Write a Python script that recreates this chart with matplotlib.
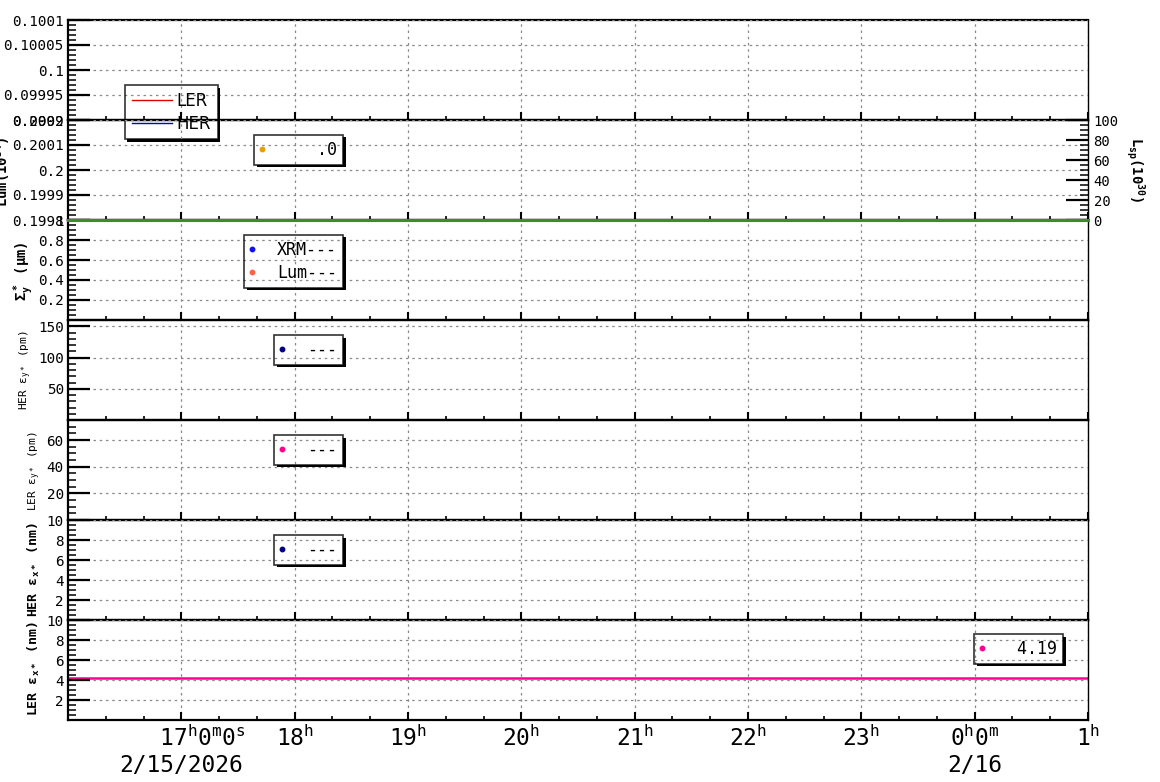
import matplotlib
matplotlib.use('Agg')
import matplotlib.pyplot as plt
import matplotlib.dates as mdates
from matplotlib.ticker import AutoMinorLocator, FuncFormatter
from matplotlib.lines import Line2D
from matplotlib.patches import Rectangle
import pandas as pd

W, H = 1160, 782
plt.rcParams['font.family'] = ['DejaVu Sans Mono', 'DejaVu Sans']
plt.rcParams['mathtext.default'] = 'regular'

# ---------------- data ----------------
t_start = pd.Timestamp('2026-02-15 16:00')
t_end = pd.Timestamp('2026-02-16 01:00')
hour_ticks = pd.date_range('2026-02-15 17:00', '2026-02-16 01:00', freq='h')
hour_labels = ['   17$^h$0$^m$0$^s$\n2/15/2026', '18$^h$', '19$^h$', '20$^h$',
               '21$^h$', '22$^h$', '23$^h$', '0$^h$0$^m$\n2/16', '1$^h$']

line_times = [t_start, t_end]
lsp_values = [0, 0]               # specific luminosity (right axis of panel 2)
ler_ex_values = [4.19, 4.19]      # LER emittance x
ler_ex_latest = 4.19

panel_ylims = [(0.0999, 0.1001), (0.1998, 0.2002), (0, 1), (0, 160), (0, 75), (0, 10), (0, 10)]
panel_yticks = [[0.0999, 0.09995, 0.1, 0.10005, 0.1001],
                [0.1998, 0.1999, 0.2, 0.2001, 0.2002],
                [0.2, 0.4, 0.6, 0.8, 1.0],
                [50, 100, 150],
                [20, 40, 60],
                [2, 4, 6, 8, 10],
                [2, 4, 6, 8, 10]]
panel_minor = [5, 5, 4, 5, 4, 4, 4]
lsp_ylim = (0, 100)
lsp_yticks = [0, 20, 40, 60, 80, 100]

# ---------------- figure ----------------
fig = plt.figure(figsize=(W / 100, H / 100), dpi=100)
fig.patch.set_facecolor('white')

x0, x1 = 68, 1088
tops = [20, 120, 220, 320, 420, 520, 620]
ph = 100
axes = []
for i, top in enumerate(tops):
    rect = [x0 / W, 1 - (top + ph) / H, (x1 - x0) / W, ph / H]
    ax = fig.add_axes(rect, sharex=axes[0] if axes else None)
    ax.set_facecolor('none')
    axes.append(ax)

grid_kw = dict(color='#8a8a8a', linestyle=(0, (2, 3)), linewidth=0.9)
hour_nums = mdates.date2num(hour_ticks.to_pydatetime())

for i, ax in enumerate(axes):
    ax.set_xlim(mdates.date2num(t_start.to_pydatetime()), mdates.date2num(t_end.to_pydatetime()))
    ax.set_ylim(*panel_ylims[i])
    ax.set_yticks(panel_yticks[i])
    ax.yaxis.set_major_formatter(FuncFormatter(lambda v, p: '%g' % v))
    ax.yaxis.set_minor_locator(AutoMinorLocator(panel_minor[i]))
    ax.set_xticks(hour_nums)
    ax.xaxis.set_minor_locator(mdates.MinuteLocator(byminute=[20, 40]))
    ax.set_axisbelow(False)
    ax.grid(True, which='major', **grid_kw)
    ax.tick_params(axis='y', which='major', direction='in', length=16, width=1.6,
                   labelsize=10.3, pad=3, left=True, right=False)
    ax.tick_params(axis='y', which='minor', direction='in', length=6, width=1.1,
                   left=True, right=False)
    ax.tick_params(axis='x', which='major', direction='in', length=6, width=1.5,
                   top=False, bottom=True)
    ax.tick_params(axis='x', which='minor', direction='in', length=3, width=1.2,
                   top=False, bottom=True)
    for s in ('top', 'bottom', 'left'):
        ax.spines[s].set_linewidth(1.6)
    ax.spines['right'].set_linewidth(1.0)
    if i < len(axes) - 1:
        ax.tick_params(axis='x', labelbottom=False)

# bottom x labels
axb = axes[-1]
axb.set_xticks(hour_nums, hour_labels)
axb.tick_params(axis='x', which='major', labelsize=16.5, pad=4)
for lbl in axb.get_xticklabels():
    lbl.set_linespacing(1.15)

# panel 1: LER / HER lines (no data)
ax1 = axes[0]
h_ler, = ax1.plot([], [], color='#e00000', lw=1.0, label='LER')
h_her, = ax1.plot([], [], color='#0000c8', lw=1.0, label='HER')

# panel 2: luminosity with Lsp twin axis
ax2 = axes[1]
h_lum, = ax2.plot([], [], 'o', color='#e8a000', ms=3.2, label='   .0')
ax2r = ax2.twinx()
ax2r.set_facecolor('none')
ax2r.set_ylim(*lsp_ylim)
ax2r.set_yticks(lsp_yticks)
ax2r.yaxis.set_minor_locator(AutoMinorLocator(4))
ax2r.plot(line_times, lsp_values, color='#3c8c28', lw=2.2, clip_on=False)
ax2r.tick_params(axis='y', which='major', direction='in', length=16, width=1.6,
                 labelsize=10, pad=4)
ax2r.tick_params(axis='y', which='minor', direction='in', length=6, width=1.1)
for s in ax2r.spines.values():
    s.set_visible(False)

# panel 3: sigma_y*
ax3 = axes[2]
h_xrm, = ax3.plot([], [], 'o', color='#1010f0', ms=3.2, label='XRM---')
h_lm, = ax3.plot([], [], 'o', color='#ff6347', ms=3.2, label='Lum---')

# panel 4-6
h4, = axes[3].plot([], [], 'o', color='#000080', ms=3.2, label='---')
h5, = axes[4].plot([], [], 'o', color='#ff0090', ms=3.2, label='---')
h6, = axes[5].plot([], [], 'o', color='#000080', ms=3.2, label='---')

# panel 7: LER emittance x
ax7 = axes[6]
h7, = ax7.plot(line_times, ler_ex_values, '-', color='#ff0090', lw=1.8)
h7m = Line2D([], [], marker='o', ls='none', color='#ff0090', ms=3.2)

legends = []


def add_legend(ax, handles, labels, px, py, family='DejaVu Sans Mono', hl=0.3,
               htp=1.35, bp=0.35, ls=0.3, size=12):
    leg = ax.legend(handles, labels, loc='upper left',
                    bbox_to_anchor=(px / W, 1 - py / H), bbox_transform=fig.transFigure,
                    borderaxespad=0, frameon=True, fancybox=False, shadow=False,
                    edgecolor='black', facecolor='none',
                    prop={'family': family, 'size': size}, handlelength=hl,
                    handletextpad=htp, borderpad=bp, labelspacing=ls, numpoints=1)
    leg.get_frame().set_linewidth(1.2)
    legends.append(leg)
    return leg


add_legend(ax1, [h_ler, h_her], ['LER', 'HER'], 125, 85, family='DejaVu Sans',
           hl=2.4, htp=0.3, bp=0.4, ls=0.3)
add_legend(ax2, [h_lum], [h_lum.get_label()], 254, 135)
add_legend(ax3, [h_xrm, h_lm], ['XRM---', 'Lum---'], 244, 235)
add_legend(axes[3], [h4], ['---'], 274, 335)
add_legend(axes[4], [h5], ['---'], 274, 435)
add_legend(axes[5], [h6], ['---'], 274, 535)
add_legend(ax7, [h7m], ['%5.2f' % ler_ex_latest], 974, 634)


# y labels
def ylab(text, xb, yc, size, weight, rot=90):
    fig.text(xb / W, 1 - yc / H, text, rotation=rot, rotation_mode='anchor',
             ha='center', va='baseline', fontsize=size, fontweight=weight)


ylab('Lum(10$^{34}$)', 8, 172, 10, 'bold')
ylab('Σ$_y^*$ (μm)', 27, 271, 10, 'bold')
ylab('HER ε$_{y*}$ (pm)', 28, 370, 8, 'normal')
ylab('LER ε$_{y*}$ (pm)', 37, 471, 8, 'normal')
ylab('HER ε$_{x*}$ (nm)', 38, 570, 9.5, 'bold')
ylab('LER ε$_{x*}$ (nm)', 38, 669, 9.5, 'bold')
ylab('L$_{sp}$(10$^{30}$)', 1131, 170, 10, 'bold', rot=270)

# legend drop shadows (strips on right and bottom, legend interior stays transparent)
fig.canvas.draw()
renderer = fig.canvas.get_renderer()
inv = fig.transFigure.inverted()
d = 2.5
for leg in legends:
    bb = leg.get_frame().get_window_extent(renderer)
    for (rx, ry, rw, rh) in [(bb.x1, bb.y0 - d, d, bb.height), (bb.x0 + d, bb.y0 - d, bb.width, d)]:
        (fx0, fy0) = inv.transform((rx, ry))
        (fx1, fy1) = inv.transform((rx + rw, ry + rh))
        fig.add_artist(Rectangle((fx0, fy0), fx1 - fx0, fy1 - fy0, transform=fig.transFigure,
                                 facecolor='black', edgecolor='none', zorder=10))

fig.savefig('out.png', dpi=100, facecolor='white')
